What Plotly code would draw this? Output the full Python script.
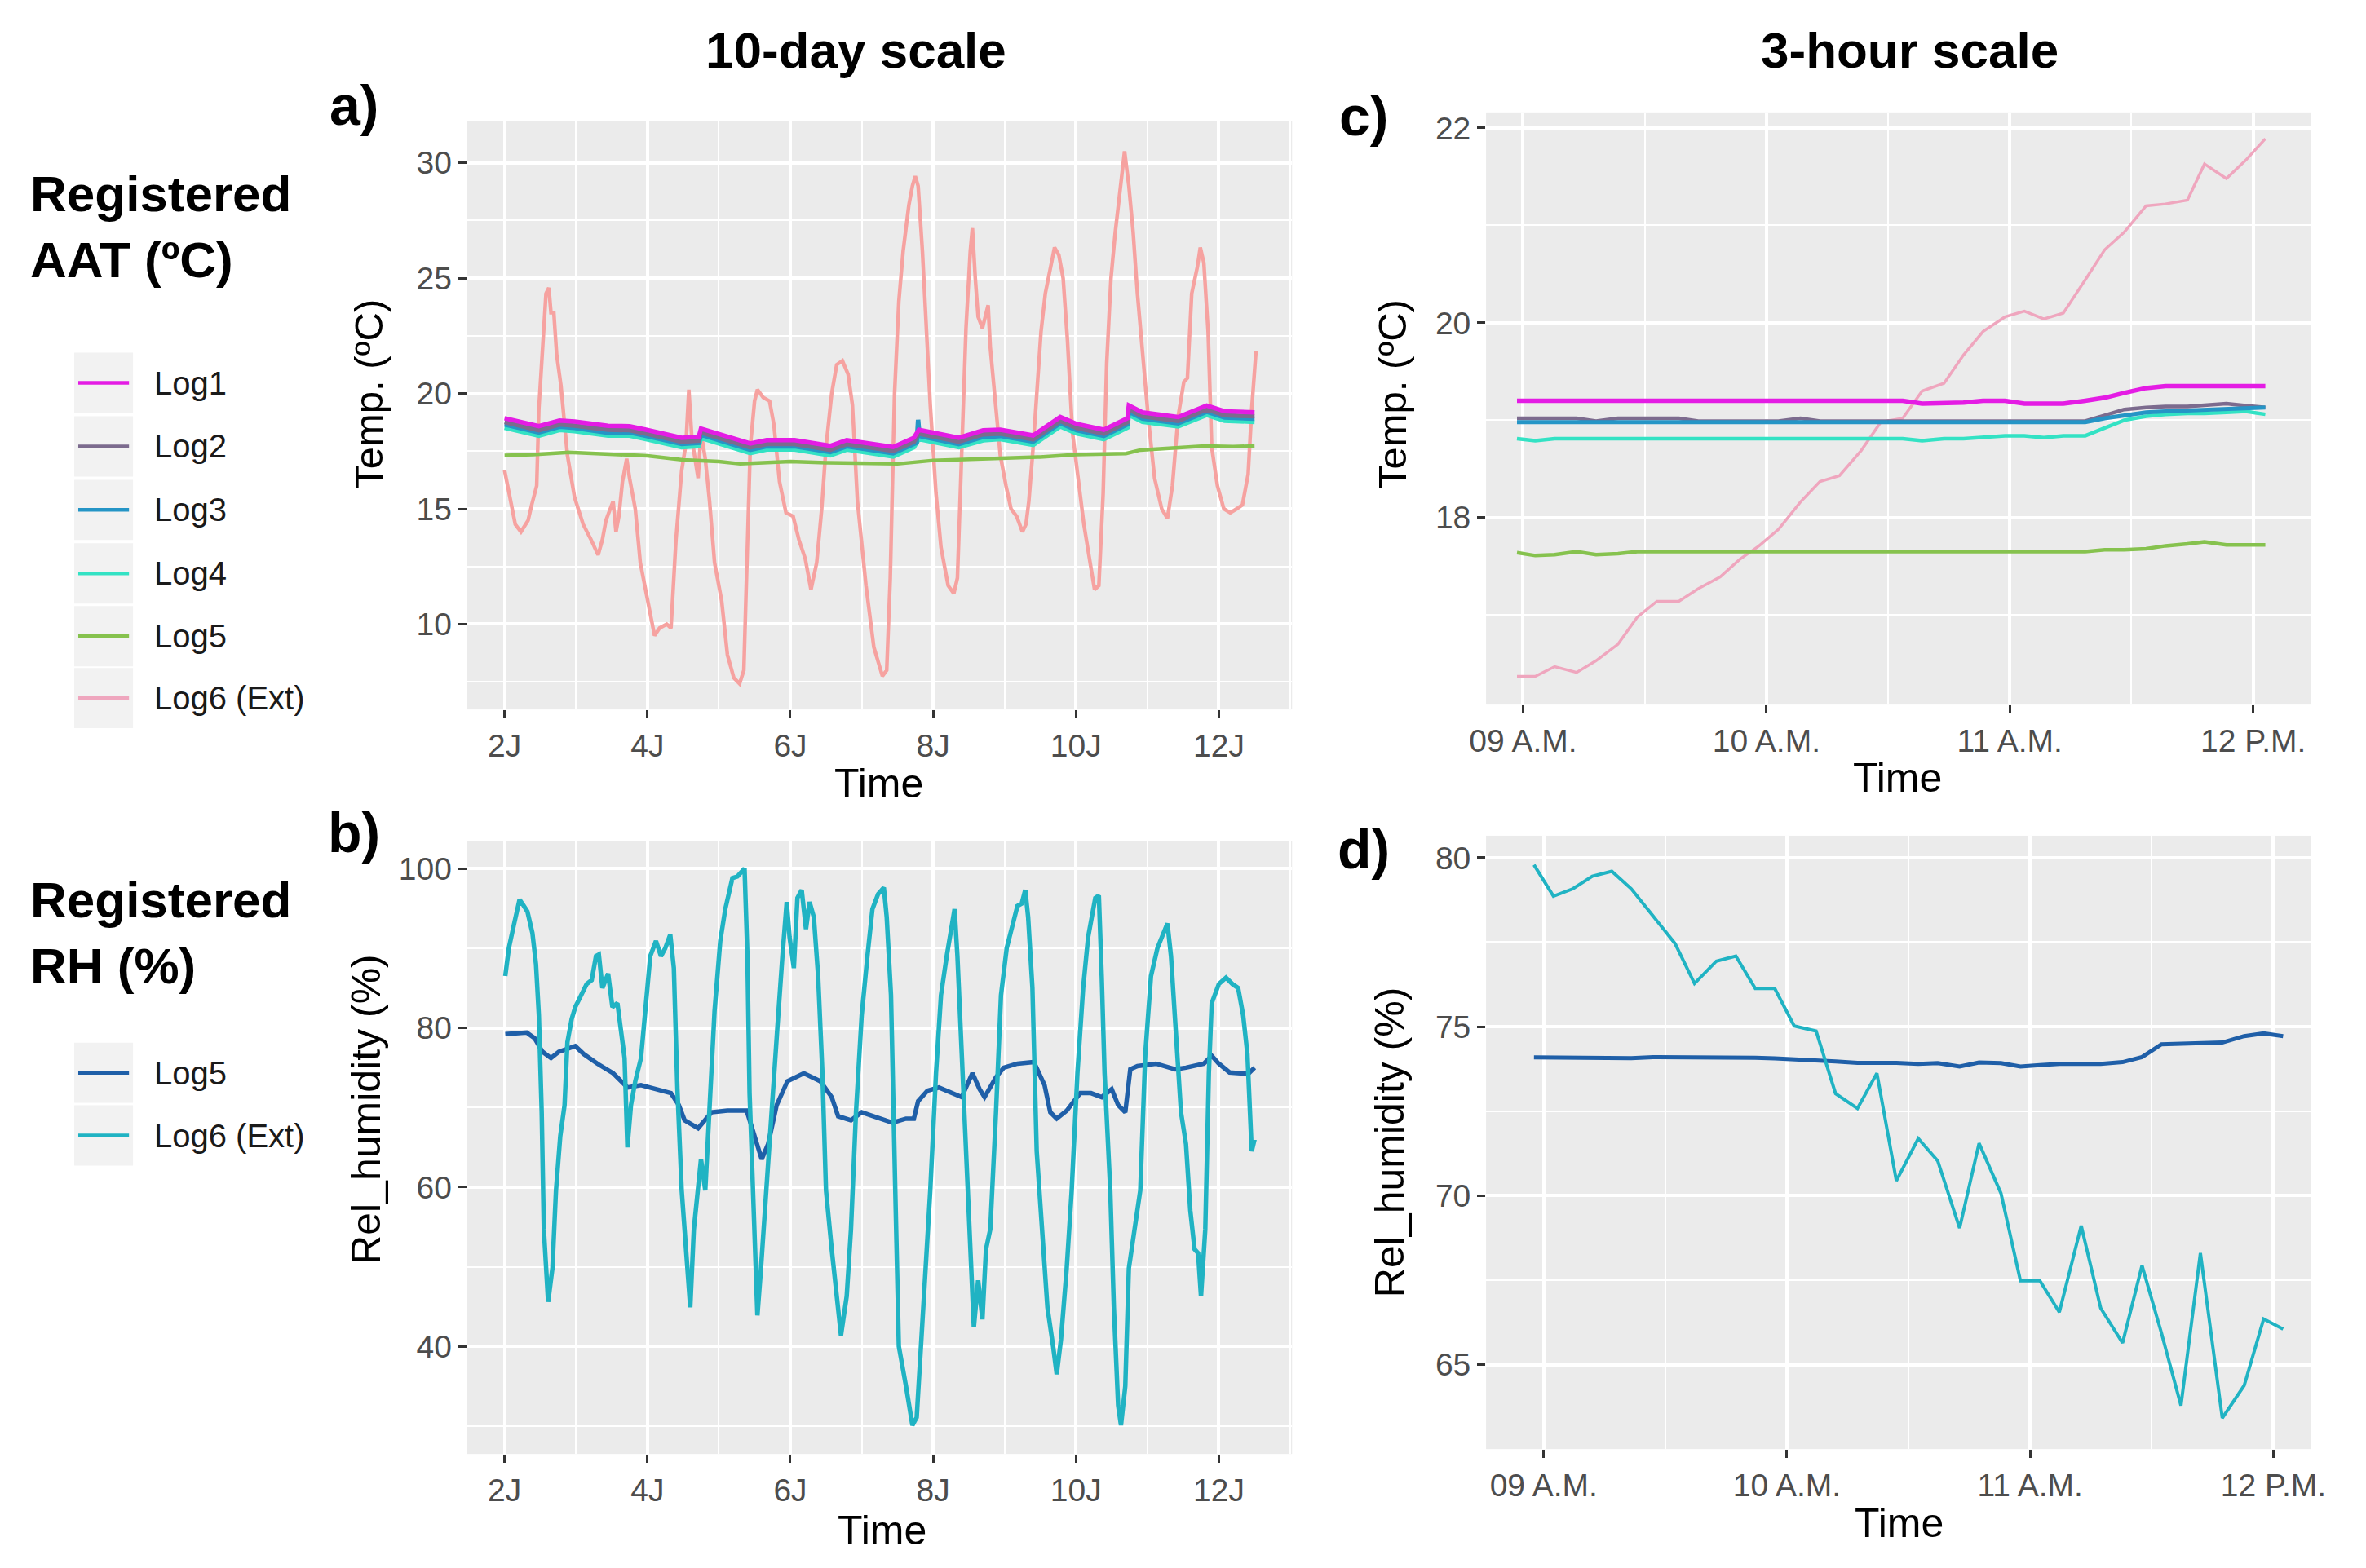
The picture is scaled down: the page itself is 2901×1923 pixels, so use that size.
import plotly.graph_objects as go

W, H = 2901, 1923

# ---------------- panel a: 10-day air temperature ----------------
days_ext = [2.0, 2.06, 2.15, 2.23, 2.33, 2.38, 2.45, 2.48, 2.52, 2.58, 2.62, 2.65, 2.69, 2.73, 2.79, 2.83,
            2.88, 2.98, 3.1, 3.21, 3.31, 3.37, 3.42, 3.48, 3.52, 3.56, 3.6, 3.65, 3.71, 3.75, 3.83, 3.9,
            4.0, 4.1, 4.17, 4.27, 4.33, 4.4, 4.48, 4.54, 4.58, 4.62, 4.65, 4.71, 4.75, 4.81, 4.87, 4.94,
            5.04, 5.12, 5.21, 5.29, 5.35, 5.4, 5.44, 5.5, 5.54, 5.62, 5.71, 5.77, 5.85, 5.94, 6.04, 6.12,
            6.21, 6.29, 6.37, 6.44, 6.5, 6.58, 6.65, 6.73, 6.81, 6.87, 6.94, 7.06, 7.17, 7.29, 7.35, 7.4,
            7.46, 7.52, 7.58, 7.66, 7.71, 7.75, 7.79, 7.85, 7.9, 7.96, 8.04, 8.11, 8.21, 8.29, 8.34, 8.4,
            8.46, 8.52, 8.55, 8.59, 8.63, 8.69, 8.73, 8.77, 8.8, 8.86, 8.94, 9.02, 9.09, 9.17, 9.25, 9.3,
            9.34, 9.4, 9.46, 9.51, 9.57, 9.65, 9.7, 9.76, 9.82, 9.88, 9.95, 10.03, 10.11, 10.18, 10.26, 10.32,
            10.38, 10.43, 10.49, 10.55, 10.61, 10.68, 10.74, 10.8, 10.86, 10.93, 11.01, 11.1, 11.2, 11.28, 11.35, 11.43,
            11.51, 11.56, 11.62, 11.7, 11.74, 11.79, 11.85, 11.9, 11.98, 12.07, 12.16, 12.25, 12.33, 12.41, 12.46, 12.52]
temp_ext = [16.67, 15.67, 14.33, 14.0, 14.5, 15.17, 16.0, 19.33, 21.33, 24.33, 24.58, 23.5, 23.5, 21.67, 20.33, 19.0,
            17.33, 15.5, 14.33, 13.67, 13.0, 13.67, 14.5, 15.0, 15.33, 14.0, 14.67, 16.17, 17.17, 16.33, 15.0, 12.67,
            11.0, 9.5, 9.83, 10.0, 9.83, 13.67, 16.67, 17.83, 20.17, 18.17, 17.5, 16.33, 18.33, 17.17, 15.33, 12.67,
            11.0, 8.67, 7.67, 7.42, 8.0, 13.67, 17.67, 19.67, 20.17, 19.83, 19.67, 18.67, 16.17, 14.83, 14.67, 13.67,
            12.83, 11.5, 12.67, 15.0, 17.67, 20.0, 21.25, 21.42, 20.83, 19.5, 15.33, 11.67, 9.0, 7.75, 8.0, 12.0,
            20.0, 24.0, 26.17, 28.17, 29.0, 29.42, 29.0, 26.17, 22.83, 19.5, 15.67, 13.33, 11.67, 11.33, 12.0, 17.0,
            22.83, 26.17, 27.17, 25.0, 23.33, 22.83, 23.33, 23.83, 22.0, 19.83, 17.33, 16.0, 15.0, 14.67, 14.0, 14.33,
            15.33, 17.67, 20.67, 22.67, 24.33, 25.67, 26.33, 26.0, 25.0, 22.33, 18.33, 16.33, 14.33, 13.0, 11.5, 11.67,
            15.67, 21.33, 25.0, 27.0, 28.67, 30.5, 29.0, 27.0, 24.33, 21.67, 19.0, 16.33, 15.0, 14.58, 16.0, 19.0,
            20.5, 20.67, 24.33, 25.5, 26.33, 25.67, 22.67, 17.67, 16.0, 15.0, 14.83, 15.0, 15.17, 16.5, 19.33, 21.83]

days_in = [2.0, 2.48, 2.77, 2.98, 3.45, 3.75, 3.98, 4.48, 4.72, 4.75, 5.44, 5.67, 6.06, 6.56, 6.79, 7.44,
           7.73, 7.8, 8.36, 8.7, 8.94, 9.4, 9.78, 10.01, 10.39, 10.72, 10.74, 10.93, 11.43, 11.83, 12.08, 12.5]
temp_log1 = [18.93, 18.58, 18.83, 18.78, 18.6, 18.58, 18.43, 18.08, 18.13, 18.48, 17.83, 17.98, 17.98, 17.73, 17.98, 17.68,
             18.08, 18.43, 18.08, 18.4, 18.43, 18.18, 18.98, 18.68, 18.43, 18.93, 19.48, 19.18, 18.98, 19.48, 19.23, 19.18]
temp_log2 = [18.76, 18.41, 18.66, 18.61, 18.43, 18.41, 18.26, 17.91, 17.96, 18.31, 17.66, 17.81, 17.81, 17.56, 17.81, 17.51,
             17.91, 18.26, 17.91, 18.23, 18.26, 18.01, 18.81, 18.51, 18.26, 18.76, 19.31, 19.01, 18.81, 19.31, 19.06, 19.01]
temp_log4 = [18.52, 18.17, 18.42, 18.37, 18.17, 18.17, 18.02, 17.67, 17.72, 18.07, 17.42, 17.57, 17.57, 17.32, 17.57, 17.27,
             17.67, 18.02, 17.67, 17.97, 18.02, 17.77, 18.57, 18.27, 18.02, 18.52, 19.07, 18.77, 18.57, 19.07, 18.82, 18.77]

days_log3 = [2.0, 2.48, 2.77, 2.98, 3.42, 3.44, 3.46, 3.75, 3.98, 4.48, 4.72, 4.75, 5.44, 5.67, 6.06, 6.56, 6.79,
             7.44, 7.73, 7.77, 7.79, 7.81, 8.36, 8.69, 8.71, 8.73, 8.94, 9.4, 9.78, 10.01, 10.39, 10.72, 10.74,
             10.93, 11.43, 11.83, 12.08, 12.5]
temp_log3 = [18.66, 18.31, 18.56, 18.51, 18.31, 18.61, 18.31, 18.31, 18.16, 17.81, 17.86, 18.21, 17.56, 17.71, 17.71, 17.46, 17.71,
             17.41, 17.81, 17.86, 18.86, 18.16, 17.81, 18.11, 18.41, 18.11, 18.16, 17.91, 18.71, 18.41, 18.16, 18.66, 19.21,
             18.91, 18.71, 19.21, 18.96, 18.91]

days_log5 = [2.0, 2.4, 2.9, 3.5, 4.0, 4.5, 5.0, 5.3, 5.6, 6.0, 6.5, 7.0, 7.5, 8.0, 8.5, 9.0, 9.5, 10.0,
             10.5, 10.7, 10.9, 11.5, 11.8, 12.2, 12.5]
temp_log5 = [17.32, 17.35, 17.45, 17.35, 17.3, 17.12, 17.05, 16.95, 17.0, 17.05, 17.0, 16.97, 16.95, 17.1, 17.15, 17.2,
             17.25, 17.35, 17.38, 17.4, 17.55, 17.65, 17.72, 17.7, 17.72]

# ---------------- panel b: 10-day relative humidity ----------------
days_rh_ext = [2.01, 2.06, 2.13, 2.21, 2.27, 2.32, 2.39, 2.44, 2.48, 2.52, 2.55, 2.61, 2.67, 2.72, 2.78, 2.84,
               2.88, 2.94, 2.99, 3.07, 3.15, 3.22, 3.28, 3.32, 3.37, 3.45, 3.51, 3.58, 3.64, 3.68, 3.72, 3.77,
               3.83, 3.91, 3.98, 4.04, 4.12, 4.19, 4.25, 4.32, 4.37, 4.42, 4.48, 4.54, 4.6, 4.65, 4.71, 4.75,
               4.81, 4.86, 4.94, 5.02, 5.09, 5.19, 5.26, 5.36, 5.4, 5.43, 5.49, 5.54, 5.59, 5.66, 5.74, 5.82,
               5.89, 5.95, 5.99, 6.05, 6.1, 6.16, 6.22, 6.27, 6.33, 6.39, 6.45, 6.5, 6.58, 6.66, 6.71, 6.79,
               6.85, 6.92, 7.0, 7.08, 7.15, 7.23, 7.31, 7.35, 7.41, 7.47, 7.52, 7.62, 7.71, 7.77, 7.83, 7.89,
               7.96, 8.04, 8.11, 8.19, 8.25, 8.3, 8.34, 8.4, 8.48, 8.53, 8.57, 8.63, 8.69, 8.74, 8.8, 8.88,
               8.95, 9.03, 9.1, 9.18, 9.24, 9.29, 9.33, 9.39, 9.45, 9.52, 9.6, 9.68, 9.73, 9.79, 9.87, 9.94,
               10.02, 10.1, 10.17, 10.27, 10.32, 10.36, 10.4, 10.48, 10.53, 10.59, 10.63, 10.69, 10.74, 10.82, 10.9, 10.97,
               11.05, 11.14, 11.22, 11.28, 11.33, 11.39, 11.47, 11.54, 11.6, 11.66, 11.71, 11.75, 11.81, 11.86, 11.9, 12.0,
               12.1, 12.19, 12.27, 12.34, 12.4, 12.46, 12.5]
rh_ext = [86.5, 90.0, 92.9, 96.1, 95.3, 94.6, 91.9, 88.0, 81.6, 69.4, 54.7, 45.6, 49.8, 59.6, 66.4, 70.3,
          78.2, 81.1, 82.6, 84.1, 85.5, 86.0, 89.0, 89.2, 85.0, 86.8, 82.6, 83.1, 78.2, 76.2, 65.0, 70.3,
          73.3, 76.2, 83.1, 89.0, 90.9, 89.0, 90.0, 91.7, 87.5, 72.3, 59.6, 52.2, 44.9, 54.7, 59.6, 63.5,
          59.6, 69.4, 82.1, 90.9, 94.9, 98.8, 99.0, 100.0, 89.0, 71.8, 54.7, 43.9, 49.8, 59.6, 69.4, 80.1,
          89.0, 95.8, 91.4, 87.5, 96.3, 97.3, 92.4, 95.8, 93.9, 86.5, 74.3, 59.6, 52.2, 44.9, 41.4, 46.3,
          54.7, 69.4, 81.6, 89.0, 94.9, 96.8, 97.6, 93.9, 84.1, 59.6, 40.0, 35.0, 30.1, 31.1, 40.0, 49.8,
          59.6, 74.3, 84.1, 89.0, 92.4, 94.9, 89.0, 76.7, 59.6, 49.8, 42.4, 48.3, 43.4, 52.2, 54.7, 69.4,
          84.1, 90.0, 92.4, 95.3, 95.6, 97.3, 93.9, 85.0, 64.5, 54.7, 44.9, 40.0, 36.5, 40.9, 49.8, 59.6,
          74.3, 85.0, 91.4, 96.3, 96.6, 86.5, 74.3, 59.6, 44.9, 32.6, 30.1, 35.0, 49.8, 54.7, 59.6, 76.7,
          86.5, 90.0, 91.9, 93.1, 89.0, 80.1, 69.4, 65.4, 57.1, 52.2, 51.7, 46.3, 54.7, 74.3, 83.1, 85.5,
          86.3, 85.5, 85.0, 81.6, 76.7, 64.5, 66.0]

days_rh_log5 = [2.01, 2.31, 2.42, 2.53, 2.65, 2.76, 2.99, 3.11, 3.3, 3.52, 3.72, 3.91, 4.33, 4.44, 4.52, 4.71,
                4.9, 5.12, 5.39, 5.5, 5.6, 5.69, 5.81, 5.96, 6.19, 6.42, 6.58, 6.67, 6.85, 7.0, 7.24, 7.43,
                7.62, 7.73, 7.79, 7.92, 8.08, 8.4, 8.55, 8.65, 8.72, 8.88, 8.99, 9.18, 9.41, 9.56, 9.64, 9.73,
                9.87, 10.06, 10.21, 10.36, 10.5, 10.59, 10.69, 10.76, 10.86, 11.12, 11.39, 11.54, 11.79, 11.9, 12.0, 12.15,
                12.3, 12.42, 12.5]
rh_log5 = [79.2, 79.4, 78.7, 77.0, 76.2, 77.0, 77.7, 76.7, 75.5, 74.3, 72.5, 72.8, 71.8, 70.3, 68.4, 67.4,
           69.4, 69.6, 69.6, 66.4, 63.5, 65.4, 70.3, 73.3, 74.3, 73.3, 71.3, 68.9, 68.4, 69.4, 68.6, 68.1,
           68.6, 68.6, 70.8, 72.1, 72.5, 71.3, 74.3, 72.3, 71.3, 73.8, 75.0, 75.5, 75.7, 72.8, 69.4, 68.6,
           69.6, 71.8, 71.8, 71.3, 72.3, 70.3, 69.4, 74.8, 75.2, 75.5, 74.8, 75.0, 75.5, 76.5, 75.5, 74.4,
           74.3, 74.3, 75.0]

# ---------------- panel c: 3-hour air temperature (hour of day) ----------------
hours_c = [8.975, 9.05, 9.13, 9.22, 9.3, 9.39, 9.47, 9.55, 9.64, 9.72, 9.81, 9.89, 9.97, 10.05, 10.14, 10.22,
           10.3, 10.39, 10.47, 10.56, 10.64, 10.73, 10.81, 10.89, 10.98, 11.06, 11.14, 11.22, 11.31, 11.39, 11.47, 11.56,
           11.64, 11.73, 11.8, 11.89, 11.97, 12.05]
c_ext = [16.37, 16.37, 16.47, 16.41, 16.53, 16.7, 16.98, 17.14, 17.14, 17.27, 17.39, 17.57, 17.71, 17.88, 18.16, 18.37,
         18.43, 18.69, 18.98, 19.02, 19.3, 19.38, 19.67, 19.91, 20.06, 20.12, 20.04, 20.1, 20.44, 20.75, 20.93, 21.2,
         21.22, 21.26, 21.63, 21.48, 21.67, 21.89]
c_log1 = [19.2, 19.2, 19.2, 19.2, 19.2, 19.2, 19.2, 19.2, 19.2, 19.2, 19.2, 19.2, 19.2, 19.2, 19.2, 19.2,
          19.2, 19.2, 19.2, 19.2, 19.17, 19.17, 19.18, 19.2, 19.2, 19.17, 19.17, 19.17, 19.2, 19.23, 19.28, 19.33,
          19.35, 19.35, 19.35, 19.35, 19.35, 19.35]
c_log2 = [19.02, 19.02, 19.02, 19.02, 18.99, 19.02, 19.02, 19.02, 19.02, 18.99, 18.99, 18.99, 18.99, 18.99, 19.02, 18.99,
          18.99, 18.99, 18.99, 18.99, 18.99, 18.99, 18.99, 18.99, 18.99, 18.99, 18.99, 18.99, 18.99, 19.05, 19.11, 19.13,
          19.14, 19.14, 19.15, 19.17, 19.15, 19.13]
c_log3 = [18.98, 18.98, 18.98, 18.98, 18.98, 18.98, 18.98, 18.98, 18.98, 18.98, 18.98, 18.98, 18.98, 18.98, 18.98, 18.98,
          18.98, 18.98, 18.98, 18.98, 18.98, 18.98, 18.98, 18.98, 18.98, 18.98, 18.98, 18.98, 18.98, 19.02, 19.05, 19.08,
          19.09, 19.1, 19.11, 19.12, 19.13, 19.13]
c_log4 = [18.81, 18.79, 18.81, 18.81, 18.81, 18.81, 18.81, 18.81, 18.81, 18.81, 18.81, 18.81, 18.81, 18.81, 18.81, 18.81,
          18.81, 18.81, 18.81, 18.81, 18.79, 18.81, 18.81, 18.82, 18.84, 18.84, 18.82, 18.84, 18.84, 18.92, 19.0, 19.04,
          19.06, 19.07, 19.07, 19.08, 19.09, 19.06]
c_log5 = [17.64, 17.61, 17.62, 17.65, 17.62, 17.63, 17.65, 17.65, 17.65, 17.65, 17.65, 17.65, 17.65, 17.65, 17.65, 17.65,
          17.65, 17.65, 17.65, 17.65, 17.65, 17.65, 17.65, 17.65, 17.65, 17.65, 17.65, 17.65, 17.65, 17.67, 17.67, 17.68,
          17.71, 17.73, 17.75, 17.72, 17.72, 17.72]

# ---------------- panel d: 3-hour relative humidity ----------------
hours_d = [8.96, 9.04, 9.12, 9.2, 9.28, 9.36, 9.45, 9.54, 9.62, 9.71, 9.79, 9.87, 9.95, 10.03, 10.12, 10.2,
           10.29, 10.37, 10.45, 10.54, 10.62, 10.71, 10.79, 10.88, 10.96, 11.04, 11.12, 11.21, 11.29, 11.38, 11.46, 11.54,
           11.62, 11.7, 11.79, 11.88, 11.96, 12.04]
d_ext = [79.79, 78.86, 79.08, 79.45, 79.6, 79.08, 78.27, 77.46, 76.28, 76.94, 77.09, 76.13, 76.13, 75.02, 74.87, 73.02,
         72.58, 73.62, 70.44, 71.69, 71.03, 69.04, 71.55, 70.07, 67.48, 67.48, 66.55, 69.11, 66.67, 65.64, 67.93, 65.93,
         63.79, 68.3, 63.42, 64.38, 66.35, 66.05]
d_log5 = [74.09, 74.09, 74.08, 74.06, 74.08, 74.07, 74.1, 74.1, 74.1, 74.08, 74.08, 74.08, 74.06, 74.04, 74.01, 73.97,
          73.93, 73.94, 73.93, 73.9, 73.92, 73.82, 73.94, 73.92, 73.82, 73.86, 73.9, 73.9, 73.9, 73.95, 74.1, 74.48,
          74.5, 74.5, 74.53, 74.72, 74.8, 74.72]

# tick labels
day_ticks = [2, 4, 6, 8, 10, 12]
day_labels = ["2J", "4J", "6J", "8J", "10J", "12J"]
hour_ticks = [9, 10, 11, 12]
hour_labels = ["09 A.M.", "10 A.M.", "11 A.M.", "12 P.M."]

temp_names = ["Log1", "Log2", "Log3", "Log4", "Log5", "Log6 (Ext)"]
temp_colors = ["#E41CE4", "#7C6B8E", "#2595C6", "#33E2C4", "#86C24E", "#EFA6BE"]
ext_color_a = "#F6A2A0"
rh_names = ["Log5", "Log6 (Ext)"]
rh_colors = ["#1F5FA8", "#20B3C3"]

FONT = "Liberation Sans, Arial, sans-serif"
TICK_FONT = "Liberation Sans Narrow, Liberation Sans, Arial, sans-serif"

fig = go.Figure()


def line(x, y, color, width, n):
    fig.add_trace(go.Scatter(x=x, y=y, mode="lines", line=dict(color=color, width=width),
                             xaxis="x" + n, yaxis="y" + n, showlegend=False, hoverinfo="skip"))


# a
line(days_ext, temp_ext, ext_color_a, 4.5, "")
line(days_log5, temp_log5, temp_colors[4], 4.5, "")
line(days_in, temp_log4, temp_colors[3], 5.5, "")
line(days_log3, temp_log3, temp_colors[2], 5.5, "")
line(days_in, temp_log2, temp_colors[1], 5.5, "")
line(days_in, temp_log1, temp_colors[0], 5.5, "")
# b
line(days_rh_log5, rh_log5, rh_colors[0], 5.5, "2")
line(days_rh_ext, rh_ext, rh_colors[1], 5.5, "2")
# c
line(hours_c, c_ext, temp_colors[5], 3.5, "3")
line(hours_c, c_log5, temp_colors[4], 4.5, "3")
line(hours_c, c_log4, temp_colors[3], 4.5, "3")
line(hours_c, c_log2, temp_colors[1], 4.5, "3")
line(hours_c, c_log3, temp_colors[2], 5, "3")
line(hours_c, c_log1, temp_colors[0], 5.5, "3")
# d
line(hours_d, d_log5, rh_colors[0], 5, "4")
line(hours_d, d_ext, rh_colors[1], 4, "4")


def axis(domain, rng, anchor, tickvals=None, ticktext=None, dtick=None, minor=None):
    a = dict(domain=domain, range=rng, anchor=anchor, showgrid=True, gridcolor="white", gridwidth=4,
             zeroline=False, showline=False, ticks="outside", ticklen=10, tickwidth=3, tickcolor="#333333",
             tickfont=dict(family=TICK_FONT, size=39, color="#4D4D4D"),
             minor=dict(dtick=minor, showgrid=True, gridcolor="white", gridwidth=2, ticks=""))
    if tickvals is not None:
        a.update(tickmode="array", tickvals=tickvals, ticktext=ticktext)
    else:
        a.update(tick0=0, dtick=dtick)
    return a


def px_x(p):
    return p / W


def px_y(p):
    return 1 - p / H


dom_a_x = [px_x(560), px_x(1585)]
dom_c_x = [px_x(1826), px_x(2851)]

fig.update_layout(
    width=W, height=H, autosize=False,
    margin=dict(l=0, r=0, t=0, b=0),
    paper_bgcolor="white", plot_bgcolor="#EBEBEB",
    font=dict(family=FONT, color="black"),
    xaxis=axis(dom_a_x, [1.475, 13.025], "y", day_ticks, day_labels, minor=1),
    yaxis=axis([px_y(869), px_y(147)], [6.3, 31.8], "x", dtick=5, minor=2.5),
    xaxis2=axis(dom_a_x, [1.475, 13.025], "y2", day_ticks, day_labels, minor=1),
    yaxis2=axis([px_y(1783), px_y(1031)], [26.5, 103.4], "x2", dtick=20, minor=10),
    xaxis3=axis(dom_c_x, [8.848, 12.238], "y3", hour_ticks, hour_labels, minor=0.5),
    yaxis3=axis([px_y(863), px_y(136)], [16.08, 22.16], "x3", dtick=2, minor=1),
    xaxis4=axis(dom_c_x, [8.763, 12.155], "y4", hour_ticks, hour_labels, minor=0.5),
    yaxis4=axis([px_y(1777), px_y(1024)], [62.5, 80.65], "x4", dtick=5, minor=2.5),
)

ann = []


def text(t, x, y, size, bold=False, angle=0, xanchor="center", color="black"):
    ann.append(dict(text="<b>%s</b>" % t if bold else t, x=px_x(x), y=px_y(y), xref="paper", yref="paper",
                    showarrow=False, textangle=angle, xanchor=xanchor, yanchor="middle", align="left",
                    borderpad=0, font=dict(family=FONT, size=size, color=color)))


text("10-day scale", 1043, 60, 62, bold=True)
text("3-hour scale", 2352, 60, 62, bold=True)
text("a)", 420, 127, 68, bold=True)
text("b)", 420, 1020, 68, bold=True)
text("c)", 1674, 140, 68, bold=True)
text("d)", 1674, 1040, 68, bold=True)
text("Temp. (ºC)", 438, 482, 49, angle=-90)
text("Rel_humidity (%)", 434, 1360, 50, angle=-90)
text("Temp. (ºC)", 1710, 482, 49, angle=-90)
text("Rel_humidity (%)", 1706, 1400, 50, angle=-90)
text("Time", 1072, 960, 50)
text("Time", 1076, 1877, 50)
text("Time", 2337, 953, 50)
text("Time", 2339, 1868, 50)

# legends drawn as key boxes + labels
text("Registered<br>AAT (ºC)", 16, 276, 62, bold=True, xanchor="left")
text("Registered<br>RH (%)", 16, 1143, 62, bold=True, xanchor="left")

shapes = []


def legend_rows(names, colors, rows):
    for name, color, yc in zip(names, colors, rows):
        shapes.append(dict(type="rect", xref="paper", yref="paper", x0=px_x(72), x1=px_x(145),
                           y0=px_y(yc + 37), y1=px_y(yc - 37), fillcolor="#F2F2F2", line=dict(width=0),
                           layer="below"))
        shapes.append(dict(type="line", xref="paper", yref="paper", x0=px_x(77), x1=px_x(140),
                           y0=px_y(yc), y1=px_y(yc), line=dict(color=color, width=4.5)))
        text(name, 170, yc, 40, xanchor="left", color="#1A1A1A")


legend_rows(temp_names, temp_colors, [468, 546, 624, 702, 779, 855])
legend_rows(rh_names, rh_colors, [1315, 1392])

fig.update_layout(annotations=ann, shapes=shapes)
fig.write_html("out.html", config={"displayModeBar": False},
               post_script="document.body.style.margin='0px';")
